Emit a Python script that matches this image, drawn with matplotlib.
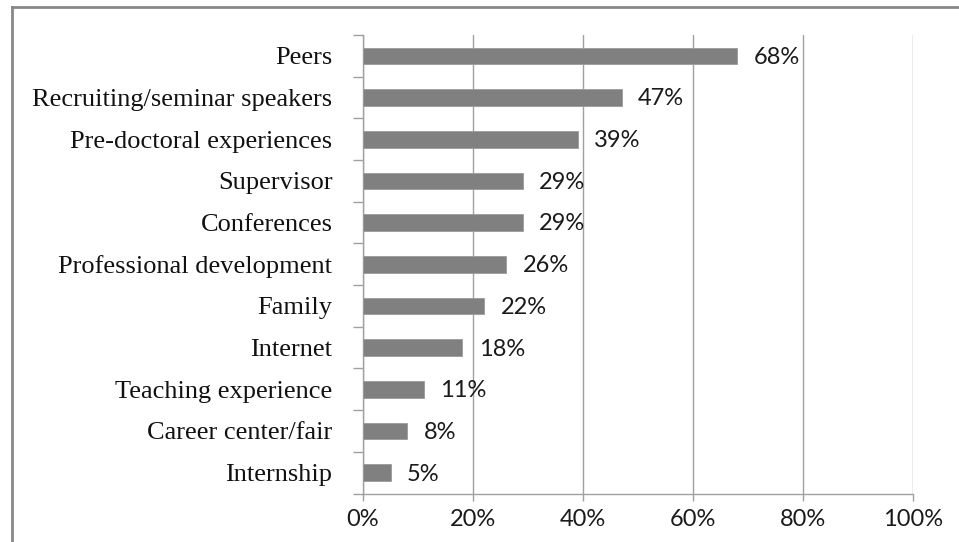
import matplotlib
matplotlib.use('Agg')
from matplotlib import pyplot as plt
from matplotlib.lines import Line2D
from matplotlib.ticker import FixedLocator, NullFormatter, PercentFormatter
import numpy as np

# Sources of career information, top to bottom
categories = [
    'Peers',
    'Recruiting/seminar speakers',
    'Pre-doctoral experiences',
    'Supervisor',
    'Conferences',
    'Professional development',
    'Family',
    'Internet',
    'Teaching experience',
    'Career center/fair',
    'Internship',
]
percentages = [68, 47, 39, 29, 29, 26, 22, 18, 11, 8, 5]
x_ticks = [0, 20, 40, 60, 80, 100]

bar_color = '#808080'
grid_color = '#A0A0A0'
label_font = 'Liberation Serif'
number_font = 'Lato'

fig = plt.figure(figsize = (9.59, 5.42), dpi = 100)
ax = fig.add_axes([363 / 959, 1 - 493.5 / 542, 550 / 959, 458.5 / 542])

n = len(categories)
positions = np.arange(n)[::-1]
ax.barh(positions, percentages, height = 0.4, color = bar_color,
        edgecolor = '#9a9a9a', linewidth = 0.6, zorder = 3)

for pos, value in zip(positions, percentages):
    ax.annotate(f'{value}%', (value, pos), xytext = (12, -1),
                textcoords = 'offset points', va = 'center', ha = 'left',
                fontsize = 17, fontfamily = number_font, color = '#1a1a1a')

ax.set_xlim(0, 100)
ax.set_ylim(-0.5, n - 0.5)

ax.set_xticks(x_ticks)
ax.xaxis.set_major_formatter(PercentFormatter(decimals = 0))
ax.tick_params(axis = 'x', length = 5, width = 1, color = grid_color,
               labelsize = 17, pad = 6, labelcolor = '#1a1a1a')
for label in ax.get_xticklabels():
    label.set_fontfamily(number_font)

# category labels at bar centres, tick marks on the band boundaries
ax.set_yticks(positions)
ax.set_yticklabels(categories, fontfamily = label_font, fontsize = 19, color = '#111111')
ax.tick_params(axis = 'y', which = 'major', length = 0, pad = 22)
ax.yaxis.set_minor_locator(FixedLocator(np.arange(n + 1) - 0.5))
ax.yaxis.set_minor_formatter(NullFormatter())
ax.tick_params(axis = 'y', which = 'minor', length = 7, width = 1, color = grid_color)

ax.grid(axis = 'x', color = grid_color, linewidth = 1, zorder = 0)
ax.set_axisbelow(True)
for side in ['top', 'right']:
    ax.spines[side].set_visible(False)
for side in ['left', 'bottom']:
    ax.spines[side].set_color(grid_color)
    ax.spines[side].set_linewidth(1)

# outer frame of the chart area
fig.add_artist(Line2D([12 / 959, 12 / 959], [0, 1 - 7 / 542],
                      color = '#888888', linewidth = 2))
fig.add_artist(Line2D([12 / 959, 1], [1 - 7 / 542, 1 - 7 / 542],
                      color = '#888888', linewidth = 2))

fig.savefig('out.png', dpi = 100)
